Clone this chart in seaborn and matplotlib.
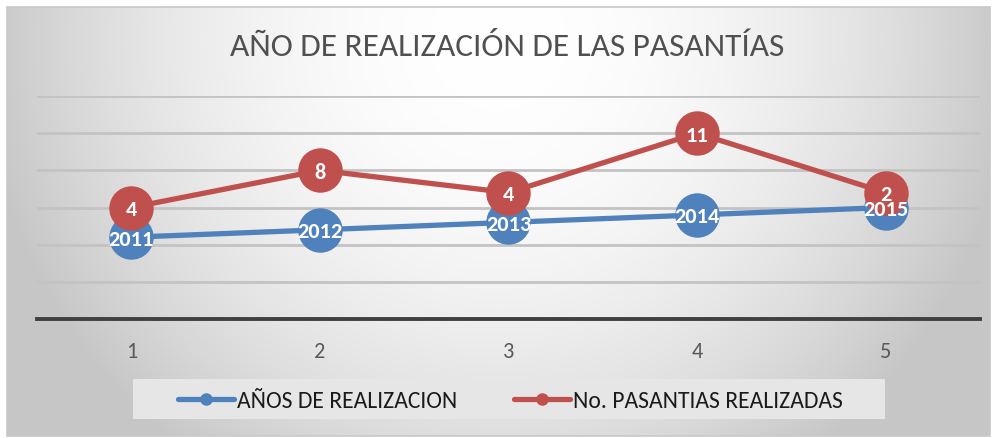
import numpy as np
import pandas as pd
import matplotlib
matplotlib.use("Agg")
import matplotlib.pyplot as plt
from matplotlib.lines import Line2D
from matplotlib.patches import Rectangle
import seaborn as sns

# ---- data ----
categories = [1, 2, 3, 4, 5]
years = [2011, 2012, 2013, 2014, 2015]
pasantias = [4, 8, 4, 11, 2]
series_names = ["AÑOS DE REALIZACION", "No. PASANTIAS REALIZADAS"]
title = "AÑO DE REALIZACIÓN DE LAS PASANTÍAS"

# stacked line chart: second series plotted on top of first
stacked = [y + p for y, p in zip(years, pasantias)]

df = pd.DataFrame({
    "cat": categories * 2,
    "value": years + stacked,
    "label": [str(v) for v in years] + [str(v) for v in pasantias],
    "serie": [series_names[0]] * 5 + [series_names[1]] * 5,
})

sns.set_theme(style="white")
fam = ["Carlito", "DejaVu Sans"]
plt.rcParams["font.family"] = fam

W, H = 995, 439
fig = plt.figure(figsize=(W / 100, H / 100), dpi=100)
fig.patch.set_facecolor("white")

# background gradient (chart area)
bg = fig.add_axes([0, 0, 1, 1], zorder=-10)
xs = np.linspace(0, 1, 400)
ys = np.linspace(0, 1, 200)
X, Y = np.meshgrid(xs, ys)
dx = (X - 0.5) / 0.5
dy = (Y - 0.08) / 0.92 * 0.8
b = np.clip(1 - 0.2 * (dx ** 2 + dy ** 2), 0.78, 1.0)
x0, x1 = 7 / W, 990 / W
y0, y1 = 8 / H, 437 / H
bg.imshow(np.dstack([b, b, b]), extent=[x0, x1, 1 - y1, 1 - y0], aspect="auto",
          origin="upper")
bg.add_patch(Rectangle((x0, 1 - y1), x1 - x0, y1 - y0, fill=False,
                       edgecolor="#c8c8c8", lw=1.2))
bg.set_xlim(0, 1)
bg.set_ylim(0, 1)
bg.axis("off")

# legend box
bg.add_patch(Rectangle((133 / W, 1 - 420 / H), (885 - 133) / W, 40 / H,
                       facecolor="#e6e6e6", edgecolor="none", zorder=2))

# main axes
left, right = 37 / W, 980 / W
bottom, top = 1 - 320 / H, 1 - 97 / H
ax = fig.add_axes([left, bottom, right - left, top - bottom])
ax.set_facecolor("none")

colors = ["#4f81bd", "#c0504d"]
sns.lineplot(data=df, x="cat", y="value", hue="serie", palette=colors,
             marker="o", markersize=32, linewidth=3.8, markeredgewidth=0,
             ax=ax, legend=False, zorder=3)

for _, r in df.iterrows():
    ax.text(r["cat"], r["value"] - 0.2, r["label"], ha="center", va="center",
            color="white", fontsize=16, fontweight="bold", zorder=10)

ax.set_xlim(0.5, 5.5)
ax.set_ylim(2000, 2030)
ax.set_yticks([2005, 2010, 2015, 2020, 2025, 2030])
ax.yaxis.grid(True, color="#c3c3c3", lw=2.0, zorder=0)
ax.set_axisbelow(True)
ax.set_yticklabels([])
ax.tick_params(axis="y", length=0)
ax.set_xticks(categories)
ax.set_xticklabels([str(c) for c in categories], color="#595959", fontsize=16)
ax.tick_params(axis="x", length=0, pad=16)
ax.set_xlabel("")
ax.set_ylabel("")
for s in ["top", "left", "right"]:
    ax.spines[s].set_visible(False)
ax.spines["bottom"].set_color("#404040")
ax.spines["bottom"].set_linewidth(2.8)

fig.text(507 / W, 1 - 47 / H, title, ha="center", va="center",
         fontsize=24, color="#505050")

handles = [Line2D([0], [0], color=c, lw=3.8, marker="o", markersize=8)
           for c in colors]
fig.legend(handles, series_names, loc="center", bbox_to_anchor=(510 / W, 1 - 402 / H),
           ncol=2, frameon=False, fontsize=17, handlelength=2.4,
           handletextpad=0.1, columnspacing=2.4, labelcolor="#1a1a1a")

fig.savefig("out.png", dpi=100)
